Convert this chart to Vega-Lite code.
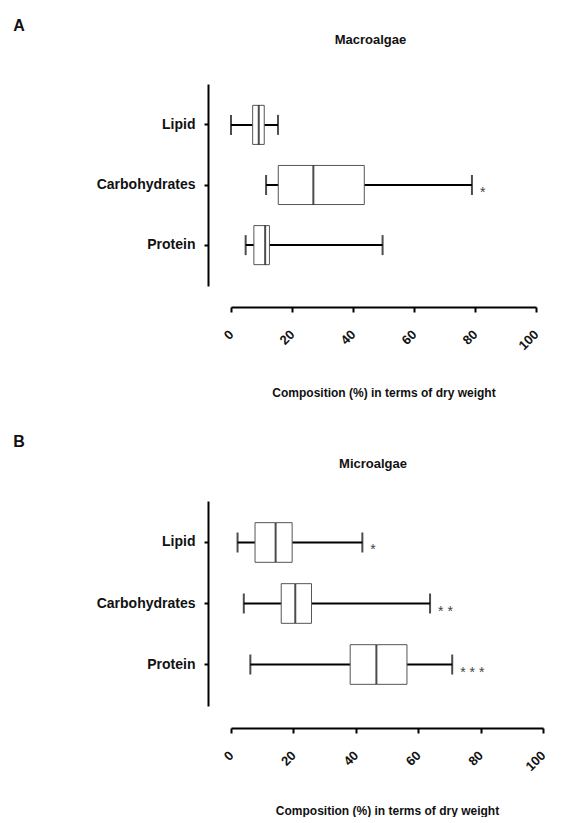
{
  "$schema": "https://vega.github.io/schema/vega-lite/v6.json",
  "padding": {"left": 13, "top": 18, "right": 5, "bottom": 0},
  "config": {
    "view": {"stroke": null},
    "font": "Liberation Sans",
    "axis": {"grid": false, "domainColor": "#000", "domainWidth": 2, "tickColor": "#000", "tickWidth": 2, "labelColor": "#111", "labelFont": "Liberation Sans", "labelFontWeight": "bold", "labelFontSize": 13, "titleFont": "Liberation Sans", "titleFontWeight": "bold", "titleFontSize": 12, "titleColor": "#111"},
    "title": {"font": "Liberation Sans", "fontWeight": "bold", "color": "#111"}
  },
  "datasets": {
    "macro": [
      {"cat": "Lipid", "min": 0, "q1": 7.1, "med": 9.1, "q3": 10.9, "max": 15.4, "sig": ""},
      {"cat": "Carbohydrates", "min": 11.5, "q1": 15.5, "med": 27, "q3": 43.7, "max": 79, "sig": "*"},
      {"cat": "Protein", "min": 4.8, "q1": 7.5, "med": 11.2, "q3": 12.6, "max": 49.7, "sig": ""}
    ],
    "micro": [
      {"cat": "Lipid", "min": 2.1, "q1": 7.7, "med": 14.3, "q3": 19.6, "max": 42.1, "sig": "*"},
      {"cat": "Carbohydrates", "min": 4.1, "q1": 16.1, "med": 20.6, "q3": 25.8, "max": 63.8, "sig": "* *"},
      {"cat": "Protein", "min": 6.2, "q1": 38.2, "med": 46.6, "q3": 56.4, "max": 70.9, "sig": "* * *"}
    ]
  },
  "spacing": 35,
  "vconcat": [
    {
      "title": {"text": "A", "anchor": "start", "frame": "bounds", "fontSize": 16, "offset": 0, "dx": -83},
      "vconcat": [
        {
          "width": 305,
          "height": 202,
          "title": {"text": "Macroalgae", "fontSize": 13, "offset": 37, "dx": -13},
          "data": {"name": "macro"},
          "encoding": {
            "y": {"field": "cat", "type": "nominal", "sort": ["Lipid", "Carbohydrates", "Protein"], "scale": {"paddingInner": 0, "paddingOuter": 0.18},
              "axis": {"title": null, "offset": 23, "tickSize": 4, "labelPadding": 9, "labelFontSize": 14}}
          },
          "layer": [
            {"mark": {"type": "rule", "color": "#000", "strokeWidth": 2},
             "encoding": {"x": {"field": "min", "type": "quantitative", "scale": {"domain": [0, 100], "nice": false},
               "axis": {"values": [0, 20, 40, 60, 80, 100], "offset": 21, "tickSize": 5, "labelAngle": -45, "labelAlign": "right", "labelBaseline": "middle", "labelPadding": 20, "title": "Composition (%) in terms of dry weight", "titlePadding": 35}},
               "x2": {"field": "max"}}},
            {"mark": {"type": "bar", "fill": "#fff", "stroke": "#555", "strokeWidth": 1, "height": {"band": 0.65}},
             "encoding": {"x": {"field": "q1", "type": "quantitative"}, "x2": {"field": "q3"}}},
            {"mark": {"type": "tick", "color": "#000", "thickness": 2, "size": 39},
             "encoding": {"x": {"field": "med", "type": "quantitative"}}},
            {"mark": {"type": "tick", "color": "#000", "thickness": 2, "size": 20},
             "encoding": {"x": {"field": "min", "type": "quantitative"}}},
            {"mark": {"type": "tick", "color": "#000", "thickness": 2, "size": 20},
             "encoding": {"x": {"field": "max", "type": "quantitative"}}},
            {"mark": {"type": "text", "align": "left", "baseline": "alphabetic", "dx": 8, "dy": 12, "fontSize": 14, "color": "#444"},
             "encoding": {"x": {"field": "max", "type": "quantitative"}, "text": {"field": "sig"}}}
          ]
        }
      ]
    },
    {
      "title": {"text": "B", "anchor": "start", "frame": "bounds", "fontSize": 16, "offset": 8, "dx": -83},
      "vconcat": [
        {
          "width": 312,
          "height": 205,
          "title": {"text": "Microalgae", "fontSize": 13, "offset": 30, "dx": -14},
          "data": {"name": "micro"},
          "encoding": {
            "y": {"field": "cat", "type": "nominal", "sort": ["Lipid", "Carbohydrates", "Protein"], "scale": {"paddingInner": 0, "paddingOuter": 0.18},
              "axis": {"title": null, "offset": 23, "tickSize": 4, "labelPadding": 9, "labelFontSize": 14}}
          },
          "layer": [
            {"mark": {"type": "rule", "color": "#000", "strokeWidth": 2},
             "encoding": {"x": {"field": "min", "type": "quantitative", "scale": {"domain": [0, 100], "nice": false},
               "axis": {"values": [0, 20, 40, 60, 80, 100], "offset": 22, "tickSize": 5, "labelAngle": -45, "labelAlign": "right", "labelBaseline": "middle", "labelPadding": 20, "title": "Composition (%) in terms of dry weight", "titlePadding": 32}},
               "x2": {"field": "max"}}},
            {"mark": {"type": "bar", "fill": "#fff", "stroke": "#555", "strokeWidth": 1, "height": {"band": 0.65}},
             "encoding": {"x": {"field": "q1", "type": "quantitative"}, "x2": {"field": "q3"}}},
            {"mark": {"type": "tick", "color": "#000", "thickness": 2, "size": 39},
             "encoding": {"x": {"field": "med", "type": "quantitative"}}},
            {"mark": {"type": "tick", "color": "#000", "thickness": 2, "size": 20},
             "encoding": {"x": {"field": "min", "type": "quantitative"}}},
            {"mark": {"type": "tick", "color": "#000", "thickness": 2, "size": 20},
             "encoding": {"x": {"field": "max", "type": "quantitative"}}},
            {"mark": {"type": "text", "align": "left", "baseline": "alphabetic", "dx": 8, "dy": 12, "fontSize": 14, "color": "#444"},
             "encoding": {"x": {"field": "max", "type": "quantitative"}, "text": {"field": "sig"}}}
          ]
        }
      ]
    }
  ]
}
